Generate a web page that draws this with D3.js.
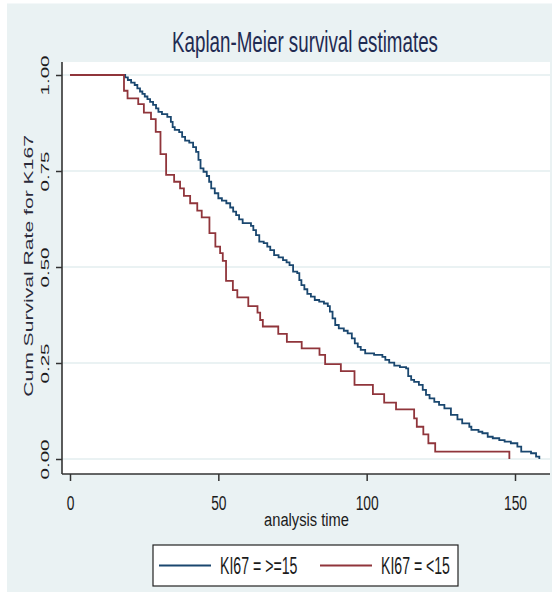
<!DOCTYPE html>
<html>
<head>
<meta charset="utf-8">
<script src="https://cdn.jsdelivr.net/npm/d3@7"></script>
<style>
  html, body { margin: 0; padding: 0; background: #ffffff; }
  svg { display: block; }
  text { font-family: "Liberation Sans", Arial, sans-serif; }
</style>
</head>
<body>
<div id="chart"></div>
<script>
// ---------------- data ----------------
const chartTitle = "Kaplan-Meier survival estimates";
const xLabel = "analysis time";
const yLabel = "Cum Survival Rate for K167";
const xTicks = [0, 50, 100, 150];
const yTicks = [0, 0.25, 0.5, 0.75, 1];
const seriesNames = ["KI67 = >=15", "KI67 = <15"];

// KI67 >= 15 : times of drops and survival after each drop
const highTimes = [0, 18.6, 19.5, 20.6, 21.8, 22.7, 23.6, 24.4, 25.2, 26.1, 27.0, 28.0, 29.0, 29.8, 31.0, 32.8,
  34.0, 34.6, 35.3, 36.8, 37.8, 38.8, 40.2, 41.5, 42.5, 43.3, 44.0, 45.0, 46.1, 46.9, 47.6, 48.8,
  50.0, 51.2, 52.7, 54.0, 55.0, 56.0, 57.0, 58.2, 61.0, 61.8, 62.7, 63.8, 65.3, 66.5, 67.5, 68.8,
  70.3, 71.8, 73.0, 74.0, 75.2, 76.6, 77.3, 78.0, 79.0, 80.0, 81.2, 82.5, 84.0, 85.6, 86.9, 87.6,
  88.5, 89.4, 90.6, 92.3, 93.6, 95.0, 96.0, 97.0, 98.0, 99.5, 102.5, 105.3, 106.3, 107.6, 109.3,
  111.2, 113.3, 114.0, 115.0, 116.0, 117.6, 118.9, 120.0, 121.2, 122.8, 124.4, 126.2, 128.4, 130.6,
  132.2, 134.6, 135.3, 137.7, 139.0, 140.8, 142.5, 144.7, 146.5, 148.6, 150.8, 152.1, 155.4, 157.1, 158.2];
const highSurv = [1, 0.994, 0.987, 0.980, 0.974, 0.965, 0.957, 0.951, 0.944, 0.937, 0.930, 0.922, 0.913, 0.904, 0.898, 0.891,
  0.878, 0.864, 0.857, 0.851, 0.839, 0.829, 0.824, 0.812, 0.800, 0.779, 0.757, 0.748, 0.737, 0.722, 0.705, 0.692,
  0.679, 0.673, 0.666, 0.655, 0.644, 0.635, 0.624, 0.614, 0.607, 0.596, 0.583, 0.566, 0.562, 0.553, 0.544, 0.531,
  0.525, 0.518, 0.512, 0.505, 0.488, 0.484, 0.466, 0.453, 0.442, 0.430, 0.423, 0.414, 0.410, 0.405, 0.398, 0.384,
  0.366, 0.349, 0.340, 0.334, 0.327, 0.314, 0.301, 0.292, 0.284, 0.275, 0.271, 0.266, 0.258, 0.251, 0.243,
  0.239, 0.236, 0.216, 0.206, 0.201, 0.193, 0.180, 0.167, 0.158, 0.149, 0.141, 0.132, 0.115, 0.103,
  0.093, 0.084, 0.076, 0.071, 0.067, 0.058, 0.054, 0.049, 0.045, 0.041, 0.032, 0.019, 0.015, 0.006, 0.000];

// KI67 < 15
const lowTimes = [0, 18.2, 19.4, 23.0, 24.9, 27.3, 28.9, 30.5, 32.4, 35.1, 37.1, 38.4, 40.5, 42.9, 44.4,
  47.0, 49.0, 50.6, 51.5, 52.6, 54.9, 56.4, 60.1, 63.2, 64.1, 65.0, 70.2, 73.1, 78.1, 84.1, 86.0,
  91.3, 95.9, 102.1, 105.9, 109.9, 116.0, 116.9, 119.1, 120.8, 123.1, 148.1];
const lowSurv = [1, 0.959, 0.939, 0.924, 0.902, 0.885, 0.852, 0.794, 0.740, 0.722, 0.705, 0.685, 0.666, 0.647, 0.629,
  0.588, 0.553, 0.536, 0.516, 0.464, 0.440, 0.421, 0.398, 0.381, 0.362, 0.345, 0.326, 0.305, 0.288, 0.271, 0.247,
  0.229, 0.193, 0.169, 0.147, 0.129, 0.106, 0.084, 0.064, 0.041, 0.019, 0.000];

// ---------------- layout ----------------
const W = 552, H = 592;
const plotL = 62, plotR = 550, plotT = 62, plotB = 474;
const colHigh = "#1a476f", colLow = "#90353b";
const bgCol = "#eaf2f3";
const axisCol = "#333333";

const svg = d3.select("#chart").append("svg").attr("width", W).attr("height", H);

// squeeze/stretch a text element (anchored at 0,0) so its length equals `target`
function fit(node, target, pre) {
  const n = node.getComputedTextLength() || 1;
  node.setAttribute("transform", `${pre} scale(${(target / n).toFixed(4)},1)`);
}

svg.append("rect").attr("width", W).attr("height", H).attr("fill", "#ffffff");
svg.append("rect").attr("x", 7).attr("y", 3.5).attr("width", W - 7).attr("height", H - 3.5).attr("fill", bgCol);
svg.append("rect").attr("x", plotL).attr("y", plotT).attr("width", plotR - plotL).attr("height", plotB - plotT).attr("fill", "#ffffff");

const x = d3.scaleLinear().domain([0, 150]).range([70, 515]);
const y = d3.scaleLinear().domain([0, 1]).range([459, 75]);

// gridlines
svg.append("g").selectAll("line").data(yTicks).join("line")
  .attr("x1", plotL).attr("x2", plotR)
  .attr("y1", d => y(d)).attr("y2", d => y(d))
  .attr("stroke", bgCol).attr("stroke-width", 2);

// curves
const line = d3.line().x(d => x(d[0])).y(d => y(d[1])).curve(d3.curveStepAfter);
const highData = highTimes.map((t, i) => [t, highSurv[i]]);
const lowData = lowTimes.map((t, i) => [t, lowSurv[i]]);
svg.append("path").datum(highData).attr("d", line).attr("fill", "none")
  .attr("stroke", colHigh).attr("stroke-width", 1.8);
svg.append("path").datum(lowData).attr("d", line).attr("fill", "none")
  .attr("stroke", colLow).attr("stroke-width", 1.8);

// x axis
const gx = svg.append("g").attr("transform", `translate(0,${plotB})`)
  .call(d3.axisBottom(x).tickValues(xTicks).tickSize(7).tickFormat(d => String(d)));
gx.select(".domain").remove();
gx.selectAll(".tick line").attr("stroke", axisCol).attr("stroke-width", 1.5);
gx.selectAll(".tick text")
  .attr("x", 0).attr("y", 0).attr("dy", 0)
  .attr("text-anchor", "middle")
  .attr("font-size", 19.5).attr("fill", "#1b1b1b")
  .attr("font-family", "Liberation Sans, Arial, sans-serif")
  .each(function (d) { fit(this, String(d).length * 7.7, "translate(0,36)"); });

// y axis
const gy = svg.append("g").attr("transform", `translate(${plotL},0)`)
  .call(d3.axisLeft(y).tickValues(yTicks).tickSize(6).tickFormat(d3.format(".2f")));
gy.select(".domain").remove();
gy.selectAll(".tick line").attr("stroke", axisCol).attr("stroke-width", 1.5);
gy.selectAll(".tick text")
  .attr("x", 0).attr("y", 0).attr("dy", 0)
  .attr("text-anchor", "middle")
  .attr("font-size", 11.6).attr("fill", "#1b1b1b")
  .attr("font-family", "Liberation Sans, Arial, sans-serif")
  .each(function () { fit(this, 40, "translate(-13,0) rotate(-90)"); });

// axis lines
svg.append("line").attr("x1", plotL).attr("x2", plotL).attr("y1", plotT).attr("y2", plotB)
  .attr("stroke", axisCol).attr("stroke-width", 1.6);
svg.append("line").attr("x1", plotL).attr("x2", plotR).attr("y1", plotB).attr("y2", plotB)
  .attr("stroke", axisCol).attr("stroke-width", 1.6);

// title
const tt = svg.append("text").attr("x", 0).attr("y", 0)
  .attr("text-anchor", "middle")
  .attr("font-size", 30).attr("fill", "#1f2b52")
  .text(chartTitle);
fit(tt.node(), 266, "translate(305,51.5)");

// x label
const xl = svg.append("text").attr("x", 0).attr("y", 0)
  .attr("text-anchor", "middle")
  .attr("font-size", 19).attr("fill", "#1b1b1b")
  .text(xLabel);
fit(xl.node(), 85, "translate(306.5,526)");

// y label
const yl = svg.append("text").attr("x", 0).attr("y", 0)
  .attr("text-anchor", "middle")
  .attr("font-size", 13.5).attr("fill", "#2b2b3b")
  .text(yLabel);
fit(yl.node(), 262, "translate(33,266) rotate(-90)");

// legend
const leg = svg.append("g");
leg.append("rect").attr("x", 153).attr("y", 545).attr("width", 305).attr("height", 41)
  .attr("fill", "#ffffff").attr("stroke", "#222222").attr("stroke-width", 1.2);
const legItems = [
  { name: seriesNames[0], col: colHigh, lx: 159, tx: 220, tl: 77.5 },
  { name: seriesNames[1], col: colLow, lx: 320, tx: 381, tl: 69 }
];
legItems.forEach(it => {
  leg.append("line").attr("x1", it.lx).attr("x2", it.lx + 52).attr("y1", 565.5).attr("y2", 565.5)
    .attr("stroke", it.col).attr("stroke-width", 1.8);
  const t = leg.append("text").attr("x", 0).attr("y", 0)
    .attr("font-size", 24).attr("fill", "#1b1b1b")
    .text(it.name);
  fit(t.node(), it.tl, `translate(${it.tx},573.5)`);
});
</script>
</body>
</html>
